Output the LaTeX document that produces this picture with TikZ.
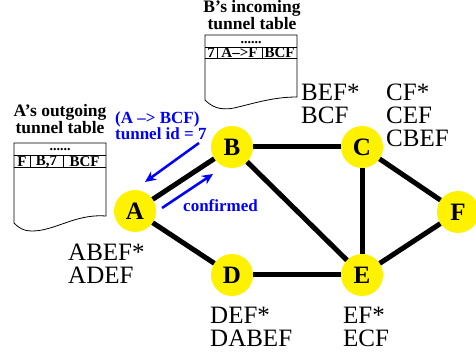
\documentclass[tikz,border=0pt]{standalone}
\usepackage{fontspec}
\setmainfont{Liberation Serif}
\usetikzlibrary{arrows.meta}
\begin{document}
\begin{tikzpicture}[x=1pt,y=-1pt,
  station/.style={circle,fill=yellow,minimum size=42pt,inner sep=0pt,font=\bfseries\fontsize{25}{25}\selectfont},
  link/.style={line width=5pt},
  msg/.style={draw=blue,line width=2.5pt,-{Stealth[length=11pt,width=10pt]}},
  lbl/.style={align=left,anchor=north west,inner sep=0pt,font=\fontsize{25}{23}\selectfont},
  hdr/.style={align=center,anchor=south,inner sep=0pt,font=\bfseries\fontsize{17.5}{15.5}\selectfont},
  cell/.style={inner sep=0pt,font=\bfseries\fontsize{15}{15}\selectfont},
  dots/.style={inner sep=0pt,anchor=base,font=\bfseries\fontsize{14}{14}\selectfont},
  blu/.style={text=blue,inner sep=0pt,font=\bfseries\fontsize{17}{15.5}\selectfont},
  tbl/.style={draw,line width=0.8pt,fill=white}]
\useasboundingbox (0,0) rectangle (476,352);
% stations
\node[station] (A) at (135,211) {A};
\node[station] (B) at (232,147) {B};
\node[station] (C) at (362,147) {C};
\node[station] (D) at (232,275) {D};
\node[station] (E) at (362,275) {E};
\node[station] (F) at (458,212) {F};
% links
\draw[link] (A) -- (B);
\draw[link] (B) -- (C);
\draw[link] (B) -- (E);
\draw[link] (C) -- (E);
\draw[link] (C) -- (F);
\draw[link] (E) -- (F);
\draw[link] (A) -- (D);
\draw[link] (D) -- (E);
% A's table
\draw[tbl] (14,143) -- (106,143) -- (106,216) .. controls (80,214) and (62,226) .. (42,230) .. controls (26,233) and (20,229) .. (14,223) -- cycle;
\draw[line width=0.8pt] (14,155) -- (106,155) (14,167) -- (106,167) (30,155) -- (30,167) (63,155) -- (63,167);
\node[hdr] (Ahdr) at (60,134) {A’s outgoing\\tunnel table};
\node[dots] (Adots) at (60,151) {......};
\node[cell] (Ac1) at (22,161.5) {F};
\node[cell] (Ac2) at (46.5,161.5) {B,7};
\node[cell] (Ac3) at (84.5,161.5) {BCF};
% B's table
\draw[tbl] (205,35) -- (297,35) -- (297,97) .. controls (272,97) and (252,104) .. (234,108) .. controls (219,111) and (211,106) .. (205,100) -- cycle;
\draw[line width=0.8pt] (205,47) -- (297,47) (205,58) -- (297,58) (217,47) -- (217,58) (262,47) -- (262,58);
\node[hdr] (Bhdr) at (252,30) {B’s incoming\\tunnel table};
\node[dots] (Bdots) at (251,43.5) {......};
\node[cell] (Bc1) at (211,53) {7};
\node[cell] (Bc2) at (239.5,53) {A–>F};
\node[cell] (Bc3) at (279.5,53) {BCF};
% messages
\coordinate (m1s) at (199,143);
\coordinate (m1e) at (145,182);
\coordinate (m2s) at (162,208);
\coordinate (m2e) at (213,174);
\draw[msg] (m1s) -- (m1e);
\draw[msg] (m2s) -- (m2e);
\node[blu,align=left,anchor=north west] (req) at (115,112) {(A –> BCF)\\tunnel id = 7};
\node[blu,anchor=base west] (conf) at (183,212) {confirmed};
% route labels
\node[lbl] (lB) at (301,84) {BEF*\\BCF};
\node[lbl] (lC) at (386,84) {CF*\\CEF\\CBEF};
\node[lbl] (lA) at (68,244) {ABEF*\\ADEF};
\node[lbl] (lD) at (210,307) {DEF*\\DABEF};
\node[lbl] (lE) at (343,307) {EF*\\ECF};
\end{tikzpicture}
\end{document}
